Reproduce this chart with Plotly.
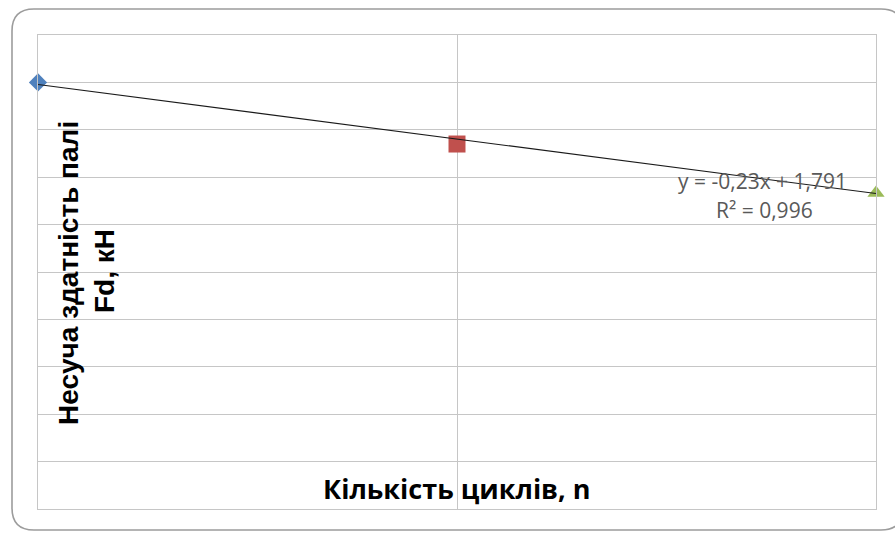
import plotly.graph_objects as go

# Bearing capacity of the pile vs. number of loading cycles
cycles = [0, 1, 2]
capacity = [1.80, 1.54, 1.333]
marker_symbols = ["diamond", "square", "triangle-up"]
marker_colors = ["#4F81BD", "#C0504D", "#9BBB59"]
marker_sizes = [14, 17, 15]

# Linear trendline as printed on the chart
slope = -0.23
intercept = 1.791
r_squared = "0,996"

x_title = "Кількість циклів, n"
y_title_line1 = "Несуча здатність палі"
y_title_line2 = "Fd, кН"
eq_text = "y = -0,23x + 1,791"
r2_text = "R² = " + r_squared

W, H = 895, 533
# plot area in pixels
PL, PR, PT, PB = 38, 876, 35, 509

fig = go.Figure()

for xv, yv, sym, col, sz in zip(cycles, capacity, marker_symbols, marker_colors, marker_sizes):
    fig.add_trace(go.Scatter(
        x=[xv], y=[yv], mode="markers",
        marker=dict(symbol=sym, color=col, size=sz, line=dict(width=0)),
        cliponaxis=False, showlegend=False, hoverinfo="skip",
    ))

trend_x = [cycles[0], cycles[-1]]
trend_y = [slope * v + intercept for v in trend_x]
fig.add_trace(go.Scatter(
    x=trend_x, y=trend_y, mode="lines",
    line=dict(color="#1a1a1a", width=1.1),
    showlegend=False, hoverinfo="skip", cliponaxis=False,
))

grid_col = "#C6C6C6"
fig.update_xaxes(range=[0, 2], dtick=1, tick0=0, showgrid=True, gridcolor=grid_col,
                 gridwidth=1.3, zeroline=False, showticklabels=False, ticks="",
                 showline=True, linecolor=grid_col, linewidth=1.3, mirror=True)
fig.update_yaxes(range=[0, 2], dtick=0.2, tick0=0, showgrid=True, gridcolor=grid_col,
                 gridwidth=1.3, zeroline=False, showticklabels=False, ticks="",
                 showline=True, linecolor=grid_col, linewidth=1.3, mirror=True)


def fx(px):
    return (px - PL) / (PR - PL)


def fy(py):
    return (PB - py) / (PB - PT)


# rounded chart frame (its right side runs just past the page edge)
bl, bt, br, bb, rad = 12, 9, 903, 530, 22
pts = [
    ("M", [(bl + rad, bt)]),
    ("L", [(br - rad, bt)]),
    ("Q", [(br, bt), (br, bt + rad)]),
    ("L", [(br, bb - rad)]),
    ("Q", [(br, bb), (br - rad, bb)]),
    ("L", [(bl + rad, bb)]),
    ("Q", [(bl, bb), (bl, bb - rad)]),
    ("L", [(bl, bt + rad)]),
    ("Q", [(bl, bt), (bl + rad, bt)]),
]
path = " ".join(cmd + " " + " ".join(f"{fx(a):.5f},{fy(b):.5f}" for a, b in p) for cmd, p in pts) + " Z"
fig.add_shape(type="path", path=path, xref="paper", yref="paper",
              line=dict(color="#9C9C9C", width=1.6), layer="below")


def label(px, py, text, size, family, color, bold=False, angle=0):
    fig.add_annotation(x=fx(px), y=fy(py), xref="paper", yref="paper", text=text,
                       xanchor="center", yanchor="middle", textangle=angle,
                       showarrow=False,
                       font=dict(family=family, size=size, color=color,
                                 weight="bold" if bold else "normal"))


# axis titles placed inside the plot area
label(68, 273, y_title_line1, 28, "Liberation Sans", "#000000", bold=True, angle=-90)
label(104, 271, y_title_line2, 28, "Liberation Sans", "#000000", bold=True, angle=-90)
label(457, 488, x_title, 27, "Open Sans", "#000000", bold=True)

# trendline equation
label(762, 181, eq_text, 21, "Open Sans", "#595959")
label(764, 210, r2_text, 21, "Open Sans", "#595959")

fig.update_layout(
    width=W, height=H,
    margin=dict(l=PL, r=W - PR, t=PT, b=H - PB, pad=0),
    paper_bgcolor="white", plot_bgcolor="white",
    showlegend=False,
)

fig.write_html("out.html")
